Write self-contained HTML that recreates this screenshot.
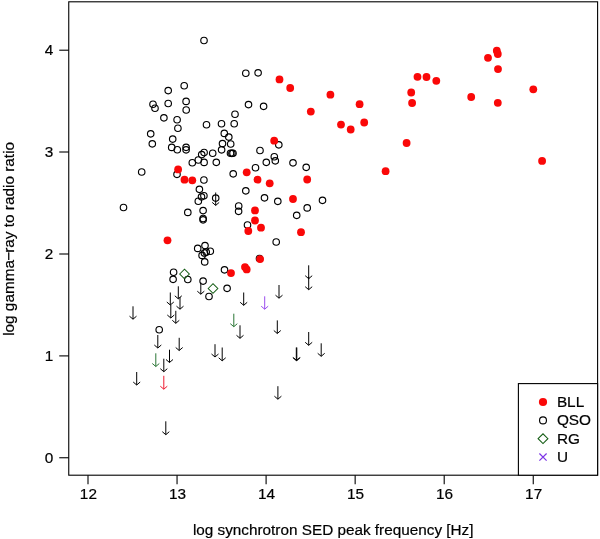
<!DOCTYPE html>
<html lang="en"><head><meta charset="utf-8"><title>log gamma-ray to radio ratio vs log synchrotron SED peak frequency</title>
<style>html,body{margin:0;padding:0;background:#fff}svg{display:block}text{stroke:#000;stroke-width:.2px}</style></head>
<body>
<svg width="600" height="539" viewBox="0 0 600 539" font-family="&quot;Liberation Sans&quot;, sans-serif" font-size="15.35px" fill="#000">
<rect width="600" height="539" fill="#fff"/>
<g fill="none" stroke="#000" stroke-width="1.15">
<circle cx="204" cy="40.5" r="3.25"/>
<circle cx="245.8" cy="73.2" r="3.25"/>
<circle cx="258.1" cy="72.8" r="3.25"/>
<circle cx="184.2" cy="85.7" r="3.25"/>
<circle cx="168.2" cy="90.6" r="3.25"/>
<circle cx="186.1" cy="101.4" r="3.25"/>
<circle cx="168.2" cy="103.5" r="3.25"/>
<circle cx="153" cy="104.2" r="3.25"/>
<circle cx="155" cy="108.2" r="3.25"/>
<circle cx="186.2" cy="110" r="3.25"/>
<circle cx="248.5" cy="104.6" r="3.25"/>
<circle cx="263.6" cy="106.3" r="3.25"/>
<circle cx="235" cy="114.2" r="3.25"/>
<circle cx="163.9" cy="117.8" r="3.25"/>
<circle cx="177.1" cy="119.7" r="3.25"/>
<circle cx="206.5" cy="124.7" r="3.25"/>
<circle cx="221.5" cy="123.7" r="3.25"/>
<circle cx="234.2" cy="123.7" r="3.25"/>
<circle cx="177.9" cy="128.2" r="3.25"/>
<circle cx="150.7" cy="133.8" r="3.25"/>
<circle cx="224.3" cy="133.4" r="3.25"/>
<circle cx="228.8" cy="137.1" r="3.25"/>
<circle cx="172.7" cy="139.1" r="3.25"/>
<circle cx="152.3" cy="143.8" r="3.25"/>
<circle cx="222.5" cy="143.6" r="3.25"/>
<circle cx="230.7" cy="144" r="3.25"/>
<circle cx="171.7" cy="147.4" r="3.25"/>
<circle cx="177.3" cy="149.7" r="3.25"/>
<circle cx="186.1" cy="147.3" r="3.25"/>
<circle cx="186.1" cy="149.8" r="3.25"/>
<circle cx="221.6" cy="149.8" r="3.25"/>
<circle cx="230.5" cy="153.2" r="3.25"/>
<circle cx="231.9" cy="153.3" r="3.25"/>
<circle cx="233" cy="153.2" r="3.25"/>
<circle cx="212.7" cy="153.2" r="3.25"/>
<circle cx="204.1" cy="152.5" r="3.25"/>
<circle cx="201.7" cy="154.6" r="3.25"/>
<circle cx="198.3" cy="160" r="3.25"/>
<circle cx="204.1" cy="162.4" r="3.25"/>
<circle cx="192.3" cy="162.7" r="3.25"/>
<circle cx="216.3" cy="162.3" r="3.25"/>
<circle cx="141.7" cy="172" r="3.25"/>
<circle cx="233.2" cy="173.8" r="3.25"/>
<circle cx="177" cy="174.3" r="3.25"/>
<circle cx="203.9" cy="180" r="3.25"/>
<circle cx="199.4" cy="189.3" r="3.25"/>
<circle cx="203.9" cy="195.7" r="3.25"/>
<circle cx="201.5" cy="196.8" r="3.25"/>
<circle cx="198.3" cy="201.2" r="3.25"/>
<circle cx="215.7" cy="198.1" r="3.25"/>
<circle cx="187.8" cy="212.4" r="3.25"/>
<circle cx="203.1" cy="210.6" r="3.25"/>
<circle cx="203.1" cy="218.5" r="3.25"/>
<circle cx="203.1" cy="219.8" r="3.25"/>
<circle cx="238.7" cy="206" r="3.25"/>
<circle cx="238.6" cy="211.3" r="3.25"/>
<circle cx="205" cy="245.6" r="3.25"/>
<circle cx="197.7" cy="248.4" r="3.25"/>
<circle cx="210.3" cy="251.2" r="3.25"/>
<circle cx="206.2" cy="252.1" r="3.25"/>
<circle cx="204.4" cy="253" r="3.25"/>
<circle cx="202.1" cy="255.4" r="3.25"/>
<circle cx="204.7" cy="261.9" r="3.25"/>
<circle cx="173.6" cy="272.2" r="3.25"/>
<circle cx="173.1" cy="279.3" r="3.25"/>
<circle cx="187.8" cy="279.5" r="3.25"/>
<circle cx="224.5" cy="269.8" r="3.25"/>
<circle cx="203.1" cy="281.1" r="3.25"/>
<circle cx="227.1" cy="288.3" r="3.25"/>
<circle cx="209" cy="296.5" r="3.25"/>
<circle cx="159.2" cy="329.7" r="3.25"/>
<circle cx="278.8" cy="144.8" r="3.25"/>
<circle cx="260" cy="150.5" r="3.25"/>
<circle cx="274.3" cy="156.7" r="3.25"/>
<circle cx="275.3" cy="160.8" r="3.25"/>
<circle cx="266.3" cy="162.3" r="3.25"/>
<circle cx="293" cy="162.8" r="3.25"/>
<circle cx="306.2" cy="167.3" r="3.25"/>
<circle cx="255.5" cy="167.7" r="3.25"/>
<circle cx="245.8" cy="190.8" r="3.25"/>
<circle cx="264.5" cy="197.8" r="3.25"/>
<circle cx="277.8" cy="201.3" r="3.25"/>
<circle cx="322.5" cy="200.3" r="3.25"/>
<circle cx="307.2" cy="207.9" r="3.25"/>
<circle cx="296.7" cy="215.3" r="3.25"/>
<circle cx="247.5" cy="225" r="3.25"/>
<circle cx="276.2" cy="242" r="3.25"/>
<circle cx="259.5" cy="258.5" r="3.25"/>
<circle cx="123.5" cy="207.5" r="3.25"/>
</g>
<g fill="#fa0808">
<circle cx="496.8" cy="50.7" r="3.9"/>
<circle cx="497.8" cy="54" r="3.9"/>
<circle cx="488" cy="57.8" r="3.9"/>
<circle cx="498" cy="69.1" r="3.9"/>
<circle cx="533.3" cy="89.3" r="3.9"/>
<circle cx="471.2" cy="97" r="3.9"/>
<circle cx="497.8" cy="102.8" r="3.9"/>
<circle cx="417.5" cy="76.8" r="3.9"/>
<circle cx="426.5" cy="77" r="3.9"/>
<circle cx="436.3" cy="80.8" r="3.9"/>
<circle cx="411.2" cy="92.5" r="3.9"/>
<circle cx="412.1" cy="103" r="3.9"/>
<circle cx="330.4" cy="94.7" r="3.9"/>
<circle cx="359.6" cy="104.2" r="3.9"/>
<circle cx="310.8" cy="111.6" r="3.9"/>
<circle cx="364.2" cy="122.5" r="3.9"/>
<circle cx="341" cy="124.6" r="3.9"/>
<circle cx="350.7" cy="129.5" r="3.9"/>
<circle cx="279.5" cy="79.4" r="3.9"/>
<circle cx="290.2" cy="88" r="3.9"/>
<circle cx="274.2" cy="140.7" r="3.9"/>
<circle cx="406.6" cy="143" r="3.9"/>
<circle cx="385.6" cy="171.2" r="3.9"/>
<circle cx="542.1" cy="160.9" r="3.9"/>
<circle cx="178.1" cy="169.4" r="3.9"/>
<circle cx="184.5" cy="179.7" r="3.9"/>
<circle cx="192.3" cy="180.3" r="3.9"/>
<circle cx="246.7" cy="172.3" r="3.9"/>
<circle cx="257.5" cy="179.7" r="3.9"/>
<circle cx="269.7" cy="183.3" r="3.9"/>
<circle cx="307.2" cy="179.5" r="3.9"/>
<circle cx="293" cy="199" r="3.9"/>
<circle cx="255" cy="210.4" r="3.9"/>
<circle cx="255" cy="220.5" r="3.9"/>
<circle cx="248.3" cy="231" r="3.9"/>
<circle cx="261" cy="227.7" r="3.9"/>
<circle cx="301" cy="232.2" r="3.9"/>
<circle cx="260.1" cy="259.1" r="3.9"/>
<circle cx="245" cy="267.1" r="3.9"/>
<circle cx="246.7" cy="269.4" r="3.9"/>
<circle cx="231" cy="273.1" r="3.9"/>
<circle cx="167.5" cy="240.3" r="3.9"/>
</g>
<g fill="none" stroke="#145c14" stroke-width="1.05">
<path d="M179.7 274L184.5 269.2L189.3 274L184.5 278.8Z"/>
<path d="M208.2 288.5L213 283.7L217.8 288.5L213 293.3Z"/>
</g>
<g fill="none" stroke-width="1.0" stroke-linecap="butt" stroke-linejoin="miter">
<path stroke="#000" d="M133.0 306.3V319.2M129.5 316.2L133.0 319.2L136.5 316.2"/>
<path stroke="#000" d="M178.3 286.3V298.8M174.8 295.8L178.3 298.8L181.8 295.8"/>
<path stroke="#000" d="M170.3 292.5V305M166.8 302.0L170.3 305L173.8 302.0"/>
<path stroke="#000" d="M180 297V309.2M176.5 306.2L180 309.2L183.5 306.2"/>
<path stroke="#000" d="M170.8 305V318M167.3 315.0L170.8 318L174.3 315.0"/>
<path stroke="#000" d="M175.8 310.8V323.3M172.3 320.3L175.8 323.3L179.3 320.3"/>
<path stroke="#000" d="M200.8 282.5V294.2M197.3 291.2L200.8 294.2L204.3 291.2"/>
<path stroke="#000" d="M157.8 335V348M154.3 345.0L157.8 348L161.3 345.0"/>
<path stroke="#000" d="M179.2 337.8V350.5M175.7 347.5L179.2 350.5L182.7 347.5"/>
<path stroke="#000" d="M169.5 349.7V362.5M166.0 359.5L169.5 362.5L173.0 359.5"/>
<path stroke="#2a7535" d="M155.8 353.3V366.5M152.3 363.5L155.8 366.5L159.3 363.5"/>
<path stroke="#000" d="M163.8 358.7V371.7M160.3 368.7L163.8 371.7L167.3 368.7"/>
<path stroke="#000" d="M136.7 372V385M133.2 382.0L136.7 385L140.2 382.0"/>
<path stroke="#ee1a30" d="M163.8 375.8V389.2M160.3 386.2L163.8 389.2L167.3 386.2"/>
<path stroke="#000" d="M165.8 421.3V434.7M162.3 431.7L165.8 434.7L169.3 431.7"/>
<path stroke="#000" d="M243.7 292.5V305.3M240.2 302.3L243.7 305.3L247.2 302.3"/>
<path stroke="#9a4cee" d="M264.7 296.3V309.2M261.2 306.2L264.7 309.2L268.2 306.2"/>
<path stroke="#000" d="M279 285V298.2M275.5 295.2L279 298.2L282.5 295.2"/>
<path stroke="#2a7535" d="M233.8 313.7V326.7M230.3 323.7L233.8 326.7L237.3 323.7"/>
<path stroke="#000" d="M240 325.3V338.3M236.5 335.3L240 338.3L243.5 335.3"/>
<path stroke="#000" d="M277.3 320.4V333.5M273.8 330.5L277.3 333.5L280.8 330.5"/>
<path stroke="#000" d="M215 344.2V357M211.5 354.0L215 357L218.5 354.0"/>
<path stroke="#000" d="M222.2 347.5V360.8M218.7 357.8L222.2 360.8L225.7 357.8"/>
<path stroke="#000" d="M296.3 347.5V360.6M292.8 357.6L296.3 360.6L299.8 357.6"/>
<path stroke="#000" d="M296.8 347.5V360.6M293.3 357.6L296.8 360.6L300.3 357.6"/>
<path stroke="#000" d="M277.9 386.2V399.2M274.4 396.2L277.9 399.2L281.4 396.2"/>
<path stroke="#000" d="M308.7 265.3V278.7M305.2 275.7L308.7 278.7L312.2 275.7"/>
<path stroke="#000" d="M308.7 276.7V289.7M305.2 286.7L308.7 289.7L312.2 286.7"/>
<path stroke="#000" d="M308.7 332V345.3M305.2 342.3L308.7 345.3L312.2 342.3"/>
<path stroke="#000" d="M321.2 343.3V356.3M317.7 353.3L321.2 356.3L324.7 353.3"/>
<path stroke="#000" d="M215.7 192.5V205.4M212.2 202.4L215.7 205.4L219.2 202.4"/>
</g>
<g stroke="#000" stroke-width="1.1" fill="none">
<rect x="68.75" y="1.8" width="528.85" height="473.4"/>
<path d="M88 475.2V484.2"/>
<path d="M177.05 475.2V484.2"/>
<path d="M266.1 475.2V484.2"/>
<path d="M355.15 475.2V484.2"/>
<path d="M444.2 475.2V484.2"/>
<path d="M533.25 475.2V484.2"/>
<path d="M68.75 50.2H59.25"/>
<path d="M68.75 152.0H59.25"/>
<path d="M68.75 254.0H59.25"/>
<path d="M68.75 355.9H59.25"/>
<path d="M68.75 457.75H59.25"/>
<rect x="518.4" y="383.6" width="79.2" height="91.6" fill="#fff"/>
</g>
<text x="88.4" y="499" text-anchor="middle">12</text>
<text x="177.45" y="499" text-anchor="middle">13</text>
<text x="266.5" y="499" text-anchor="middle">14</text>
<text x="355.55" y="499" text-anchor="middle">15</text>
<text x="444.6" y="499" text-anchor="middle">16</text>
<text x="533.65" y="499" text-anchor="middle">17</text>
<text x="53.2" y="55.2" text-anchor="end">4</text>
<text x="53.2" y="157.0" text-anchor="end">3</text>
<text x="53.2" y="259.0" text-anchor="end">2</text>
<text x="53.2" y="360.9" text-anchor="end">1</text>
<text x="53.2" y="462.75" text-anchor="end">0</text>
<text id="xl" x="333.2" y="534.5" font-size="15.31px" text-anchor="middle">log synchrotron SED peak frequency [Hz]</text>
<text id="yl" transform="translate(14.3 238.9) rotate(-90)" text-anchor="middle">log gamma<tspan dx="-0.7">−</tspan><tspan dx="-1.1">ray to radio ratio</tspan></text>
<circle cx="543" cy="402" r="4.1" fill="#fa0808"/>
<circle cx="543" cy="420.4" r="3.45" fill="none" stroke="#000" stroke-width="1.15"/>
<path d="M538.1 438.7L543 433.8L547.9 438.7L543 443.6Z" fill="none" stroke="#145c14" stroke-width="1.05"/>
<path d="M539.4 453.5L546.6 460.7M539.4 460.7L546.6 453.5" fill="none" stroke="#7d35e6" stroke-width="1.2"/>
<text class="lg" x="556.9" y="407">BLL</text>
<text class="lg" x="556.9" y="425.3">QSO</text>
<text class="lg" x="556.9" y="443.6">RG</text>
<text class="lg" x="556.9" y="462">U</text>
</svg>
</body></html>
